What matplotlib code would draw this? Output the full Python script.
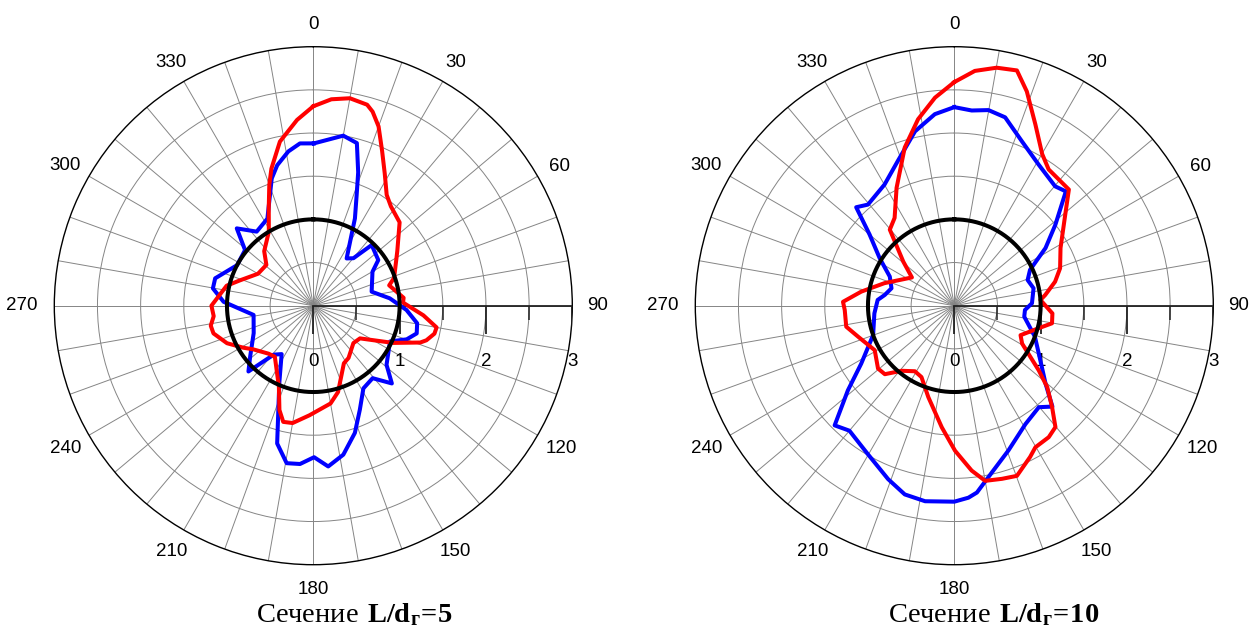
import numpy as np
import matplotlib
matplotlib.use("Agg")
import matplotlib.pyplot as plt

plt.rcParams["font.family"] = ["Liberation Sans", "DejaVu Sans"]
plt.rcParams["mathtext.fontset"] = "custom"
plt.rcParams["mathtext.rm"] = "Liberation Serif"
plt.rcParams["mathtext.bf"] = "Liberation Serif:bold"

# --- data: section L/d = 5 ---------------------------------------------------
red5_deg = [0, 5, 10, 15, 17, 20, 24, 28.4, 33.5, 38, 46, 57, 71, 75, 85, 88, 95, 100, 103,
            107, 109, 115, 125, 133, 146, 152, 164, 170, 182, 190, 194.5, 198, 203, 217, 223,
            234, 239, 246.5, 254.5, 259, 264, 270, 283, 289, 300, 311, 318, 329, 335.4, 340,
            343, 348.5, 355]
red5_r = [2.31, 2.40, 2.44, 2.41, 2.35, 2.21, 1.96, 1.74, 1.54, 1.46, 1.39, 1.16, 0.99, 0.91,
          1.05, 1.04, 1.28, 1.45, 1.44, 1.37, 1.31, 1.02, 0.66, 0.635, 0.73, 0.755, 1.04, 1.15,
          1.27, 1.38, 1.39, 1.27, 1.02, 0.74, 0.76, 0.86, 0.945, 1.09, 1.20, 1.21, 1.16, 1.18,
          1.03, 0.90, 0.74, 0.72, 0.85, 1.0, 1.24, 1.49, 1.66, 1.94, 2.16]

blue5_deg = [0.2, 10, 15, 18.6, 21.4, 25.5, 35.2, 40.2, 43.9, 54.9, 60.2, 76.5, 84.5, 92.6,
             99.6, 105, 109.8, 115, 128.9, 134.7, 140.7, 148.8, 155.9, 161.9, 168.6, 174.7,
             179.7, 184.8, 189.6, 194.7, 203.7, 213.2, 219, 224.6, 231.1, 245.3, 261.2, 272.5,
             279.8, 285.6, 298, 309.2, 315.3, 322.6, 332.2, 341.9, 345.6, 350.8, 355.3]
blue5_r = [1.88, 2.0, 1.95, 1.63, 1.376, 1.12, 0.67, 0.72, 0.975, 0.92, 0.79, 0.695, 0.89,
           1.08, 1.22, 1.24, 1.15, 0.98, 1.09, 1.28, 1.085, 1.12, 1.32, 1.55, 1.76, 1.87,
           1.755, 1.84, 1.85, 1.65, 0.98, 0.67, 0.73, 1.07, 0.94, 0.76, 0.70, 1.04, 1.18,
           1.18, 1.0, 1.02, 1.26, 1.08, 1.14, 1.55, 1.68, 1.81, 1.886]

# --- data: section L/d = 10 --------------------------------------------------
red10_deg = [0, 5, 10.1, 14.9, 18.7, 24.1, 30.1, 34.7, 44.6, 50.7, 61.5, 70.5, 76.6, 83.3,
             86.2, 94.5, 100.2, 105, 114, 119.2, 127.4, 131.2, 136, 140.2, 144.3, 150.2, 153.4,
             159.8, 164.6, 170, 174, 179.7, 185.9, 195.9, 204.7, 211, 219, 225.4, 230.5, 240.8,
             252.1, 259, 267.7, 272, 278.6, 287.9, 303.7, 310.8, 319.7, 325.8, 333.9, 342.6,
             349, 354.7]
red10_r = [2.59, 2.73, 2.80, 2.82, 2.62, 2.30, 2.03, 1.92, 1.89, 1.66, 1.40, 1.30, 1.20, 1.06,
           1.0, 1.14, 1.15, 1.01, 0.84, 0.90, 1.23, 1.43, 1.63, 1.83, 1.875, 1.89, 1.96, 2.10,
           2.08, 2.06, 1.92, 1.68, 1.415, 1.10, 0.91, 0.886, 0.97, 1.13, 1.145, 1.056, 1.17,
           1.275, 1.27, 1.29, 1.09, 0.85, 0.59, 0.78, 1.155, 1.23, 1.52, 1.92, 2.20, 2.42]

blue10_deg = [0, 5.1, 9.9, 15.1, 22.3, 30.8, 40.2, 44.3, 51.3, 57.7, 64.7, 70.7, 77.6, 88.2,
              93.5, 98.9, 111, 122.4, 130.5, 135.8, 140.2, 149, 159.5, 167.3, 173.1, 175.8,
              180, 188.5, 194.7, 200.9, 210.2, 220, 225, 231.5, 238.1, 250.1, 264.5, 274.3,
              278.8, 285.5, 294.3, 302.5, 310, 315.1, 319.5, 330.1, 338.7, 347.3, 354.2]
blue10_r = [2.30, 2.27, 2.30, 2.26, 2.06, 1.905, 1.81, 1.85, 1.50, 1.25, 0.97, 0.90, 0.94, 0.90,
            0.82, 0.82, 1.0, 1.18, 1.39, 1.63, 1.53, 1.60, 1.79, 1.98, 2.18, 2.23, 2.27, 2.29,
            2.26, 2.15, 1.99, 1.89, 1.96, 1.575, 1.27, 1.0, 0.93, 0.89, 0.815, 0.755, 0.82,
            1.025, 1.28, 1.61, 1.54, 1.62, 1.80, 2.07, 2.23]

ref_r = 1.0
theta_labels = [0, 30, 60, 90, 120, 150, 180, 210, 240, 270, 300, 330]
r_labels = [0, 1, 2, 3]
titles = [r"$\mathrm{Сечение}\ \mathbf{L/d_{г}}\!\mathbf{=}\!\mathbf{5}$",
          r"$\mathrm{Сечение}\ \mathbf{L/d_{г}}\!\mathbf{=}\!\mathbf{10}$"]

W, H = 1257, 634
R_PX = 259


def closed(deg, r):
    t = np.deg2rad(np.append(deg, deg[0]))
    return t, np.append(r, r[0])


def polar_panel(fig, cx, red_deg, red_r, blue_deg, blue_r, title, title_x):
    ax = fig.add_axes([(cx - R_PX) / W, (H - 305.7 - R_PX) / H, 2 * R_PX / W, 2 * R_PX / H],
                      projection="polar")
    ax.set_theta_zero_location("N")
    ax.set_theta_direction(-1)
    ax.set_ylim(0, 3)
    ax.set_xticks(np.deg2rad(np.arange(0, 360, 10)))
    ax.set_xticklabels([])
    ax.set_yticks([0.5, 1, 1.5, 2, 2.5])
    ax.set_yticklabels([])
    ax.tick_params(length=0)
    ax.grid(True, color="#858585", lw=0.7)
    ax.spines["polar"].set_color("black")
    ax.spines["polar"].set_linewidth(1.0)

    # radial axis along 90 deg with tick marks
    ax.plot([np.pi / 2, np.pi / 2], [0, 3], color="#222222", lw=1.3, zorder=3)
    ax.plot([np.pi / 2] * 4, r_labels, ls="none", marker=3, ms=20, mew=1.3,
            color="#222222", zorder=3)
    ax.plot([np.pi / 2] * 3, [0.5, 1.5, 2.5], ls="none", marker=3, ms=10, mew=1.1,
            color="#222222", zorder=3)
    for v in r_labels:
        ax.annotate(str(v), xy=(np.pi / 2, v), xytext=(0, -40), textcoords="offset points",
                    ha="center", va="center", fontsize=13.5)

    for a in theta_labels:
        rad = np.deg2rad(a)
        rr = 3.29 + 0.09 * (len(str(a)) - 2) * np.sin(rad) ** 8
        dy = -2 if np.cos(rad) > 0.1 else 0
        ax.annotate(str(a), xy=(rad, rr), xytext=(0, dy), textcoords="offset points",
                    ha="center", va="center", fontsize=13.5, annotation_clip=False)

    t, r = closed(blue_deg, blue_r)
    ax.plot(t, r, color="#0000ff", lw=2.9, zorder=4)
    t, r = closed(red_deg, red_r)
    ax.plot(t, r, color="#ff0000", lw=2.9, zorder=5)
    tc = np.deg2rad(np.arange(0, 361, 1))
    ax.plot(tc, np.full(tc.size, ref_r), color="black", lw=2.9, zorder=6)

    fig.text(title_x / W, 11.5 / H, title, ha="center", va="baseline", fontsize=20.5)
    return ax


fig = plt.figure(figsize=(W / 100, H / 100), dpi=100)
polar_panel(fig, 313.3, red5_deg, red5_r, blue5_deg, blue5_r, titles[0], 355)
polar_panel(fig, 954.3, red10_deg, red10_r, blue10_deg, blue10_r, titles[1], 994)
fig.savefig("out.png", dpi=100)
